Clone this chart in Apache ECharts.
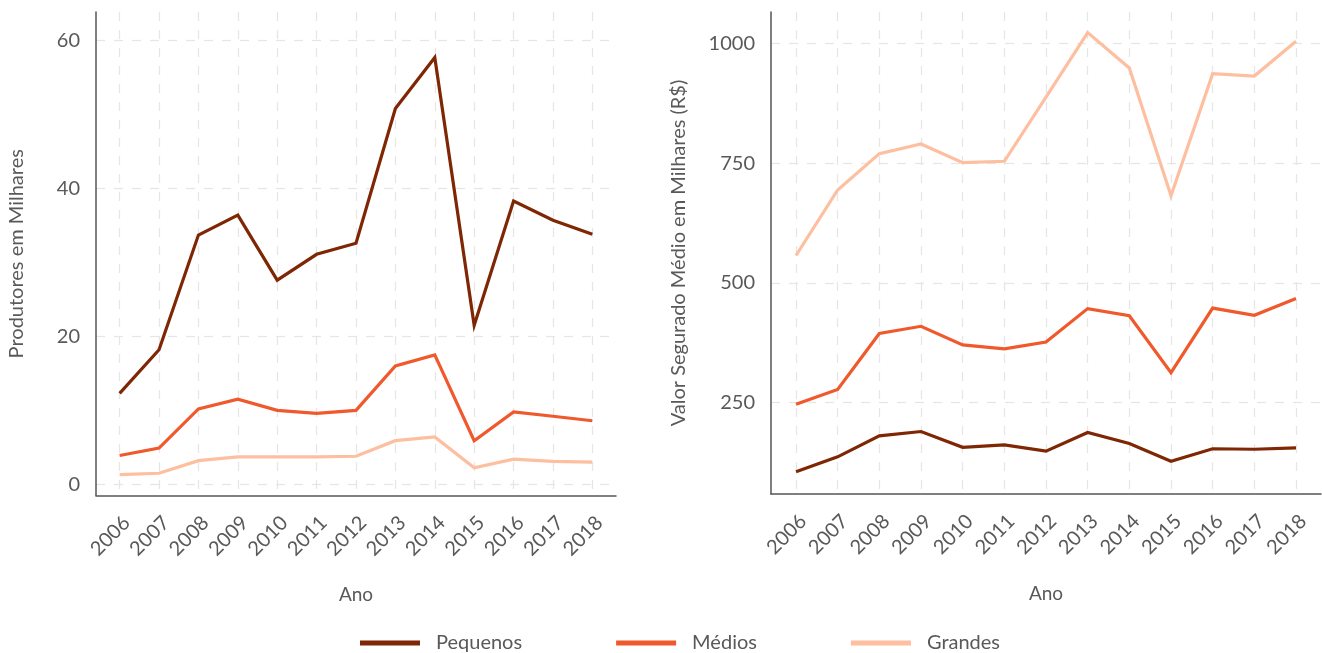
<!DOCTYPE html>
<html>
<head>
<meta charset="utf-8">
<script src="https://cdn.jsdelivr.net/npm/echarts@6/dist/echarts.min.js"></script>
<style>
html,body{margin:0;padding:0;background:#fff;}
#chart{width:1322px;height:653px;}
</style>
</head>
<body>
<div id="chart"></div>
<script>
const years = [2006, 2007, 2008, 2009, 2010, 2011, 2012, 2013, 2014, 2015, 2016, 2017, 2018];
const seriesNames = ['Pequenos', 'Médios', 'Grandes'];

// Painel esquerdo: Produtores em milhares
const produtoresPequenos = [12.3, 18.2, 33.7, 36.4, 27.6, 31.1, 32.6, 50.8, 57.7, 21.5, 38.3, 35.7, 33.8];
const produtoresMedios   = [3.9, 4.9, 10.2, 11.5, 10.0, 9.6, 10.0, 16.0, 17.5, 5.9, 9.8, 9.2, 8.6];
const produtoresGrandes  = [1.3, 1.5, 3.2, 3.7, 3.7, 3.7, 3.8, 5.9, 6.4, 2.25, 3.4, 3.1, 3.0];

// Painel direito: Valor segurado médio em milhares (R$)
const valorPequenos = [105, 136, 180, 189, 156, 161, 148, 187, 164, 127, 153, 152, 155];
const valorMedios   = [246, 277, 394, 409, 370, 362, 376, 446, 431, 312, 447, 432, 467];
const valorGrandes  = [557, 694, 770, 790, 751, 754, 888, 1023, 949, 682, 937, 932, 1005];

const leftTicks = [0, 20, 40, 60];
const rightTicks = [250, 500, 750, 1000];

const colors = ['#7f2704', '#f0592b', '#fdbf9f'];
const font = 'Lato, "Open Sans", sans-serif';
const textColor = '#595959';
const fs = 20;

function pairs(vals) { return years.map((y, i) => [y, vals[i]]); }

const gridLine = { show: true, lineStyle: { color: '#e6e6e6', width: 1.3, type: [9, 9] } };

function xAxisCfg(gridIndex) {
  return {
    type: 'value', gridIndex: gridIndex, min: 2005.4, max: 2018.6,
    name: 'Ano', nameLocation: 'middle', nameGap: 90,
    nameTextStyle: { fontFamily: font, fontSize: 19, color: textColor },
    axisLine: { show: true, onZero: false, lineStyle: { color: '#555', width: 1.5 } },
    axisTick: { show: false, customValues: years },
    axisLabel: { customValues: years, rotate: 45, verticalAlign: 'top', align: 'right', margin: 17,
      fontFamily: font, fontSize: fs, color: textColor, formatter: v => String(Math.round(v)) },
    splitLine: gridLine
  };
}

function yAxisCfg(gridIndex, min, max, ticks, name, gap) {
  return {
    type: 'value', gridIndex: gridIndex, min: min, max: max,
    name: name, nameLocation: 'middle', nameGap: gap,
    nameTextStyle: { fontFamily: font, fontSize: fs, color: textColor },
    axisLine: { show: true, onZero: false, lineStyle: { color: '#555', width: 1.5 } },
    axisTick: { show: false, customValues: ticks },
    axisLabel: { customValues: ticks, margin: 16, fontFamily: font, fontSize: fs, color: textColor,
      formatter: v => String(Math.round(v)) },
    splitLine: gridLine
  };
}

function lineSeries(name, idx, xi, vals) {
  return {
    name: name, type: 'line', xAxisIndex: xi, yAxisIndex: xi,
    data: pairs(vals), symbol: 'none', smooth: false,
    lineStyle: { color: colors[idx], width: 3.2, join: 'miter' },
    itemStyle: { color: colors[idx] }
  };
}

const chart = echarts.init(document.getElementById('chart'));
chart.setOption({
  animation: false,
  backgroundColor: '#fff',
  color: colors,
  grid: [
    { left: 96, top: 12, width: 520, height: 483.5 },
    { left: 771, top: 12, width: 550, height: 482 }
  ],
  xAxis: [xAxisCfg(0), xAxisCfg(1)],
  yAxis: [
    yAxisCfg(0, -1.51, 63.86, leftTicks, 'Produtores em Milhares', 69),
    yAxisCfg(1, 58.4, 1066, rightTicks, 'Valor Segurado Médio em Milhares (R$)', 82)
  ],
  legend: {
    data: seriesNames, left: 360, top: 633, padding: 0, icon: 'rect', itemWidth: 60, itemHeight: 5, itemGap: 94,
    textStyle: { fontFamily: font, fontSize: fs, color: textColor, padding: [0, 0, 0, 11] }
  },
  series: [
    lineSeries('Pequenos', 0, 0, produtoresPequenos),
    lineSeries('Médios', 1, 0, produtoresMedios),
    lineSeries('Grandes', 2, 0, produtoresGrandes),
    lineSeries('Pequenos', 0, 1, valorPequenos),
    lineSeries('Médios', 1, 1, valorMedios),
    lineSeries('Grandes', 2, 1, valorGrandes)
  ]
});
</script>
</body>
</html>
